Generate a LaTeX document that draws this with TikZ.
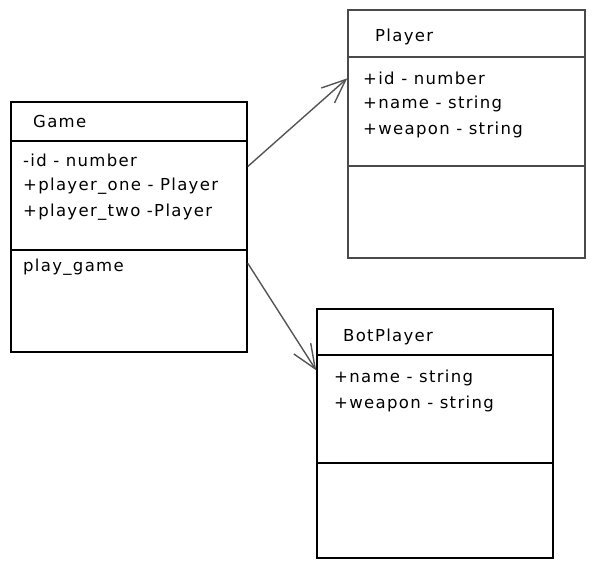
\documentclass[tikz,border=0pt]{standalone}
\usepackage{fontspec}
\setmainfont{DejaVu Sans}[LetterSpace=8]
\usetikzlibrary{arrows.meta}
\definecolor{linegray}{HTML}{4A4A4A}
\definecolor{arrowgray}{HTML}{555555}
\begin{document}
\begin{tikzpicture}[x=1pt,y=-1pt,
  classbox/.style={draw, line width=1.6pt, inner sep=0pt},
  sepline/.style={line width=2.8pt},
  member/.style={anchor=west, inner sep=0pt, font=\fontsize{16.5}{18}\selectfont},
  assoc/.style={draw=arrowgray, line width=1.4pt, -{Straight Barb[length=24pt,width=20pt,line width=1.4pt]}}]
\useasboundingbox (0,0) rectangle (595,569);

% Game
\node[classbox, minimum width=236pt, minimum height=250pt] (game) at (129,227) {};
\draw[sepline] (game.west |- 0,141) -- (game.east |- 0,141);
\draw[sepline] (game.west |- 0,250) -- (game.east |- 0,250);
\node[member] (gtitle) at (33,121) {Game};
\node[member] (gid) at (23,160) {-id - number};
\node[member] (gone) at (23,186) {+player\_one - Player};
\node[member] (gtwo) at (23,212) {+player\_two -Player};
\node[member] (gplay) at (23,267) {play\_game};

% Player
\node[classbox, draw=linegray, minimum width=237pt, minimum height=248pt] (player) at (466.5,134) {};
\draw[sepline, linegray] (player.west |- 0,57) -- (player.east |- 0,57);
\draw[sepline, linegray] (player.west |- 0,166) -- (player.east |- 0,166);
\node[member] (ptitle) at (375,37) {Player};
\node[member] (pid) at (363,78) {+id - number};
\node[member] (pname) at (363,104) {+name - string};
\node[member] (pweapon) at (363,130) {+weapon - string};

% BotPlayer
\node[classbox, minimum width=236pt, minimum height=249pt] (bot) at (435,433.5) {};
\draw[sepline] (bot.west |- 0,355) -- (bot.east |- 0,355);
\draw[sepline] (bot.west |- 0,463) -- (bot.east |- 0,463);
\node[member] (btitle) at (343,337) {BotPlayer};
\node[member] (bname) at (334,378) {+name - string};
\node[member] (bweapon) at (334,404) {+weapon - string};

% associations
\path[assoc] (game.27) -- (player.155);
\path[assoc] (game.343.5) -- (bot.152);
\end{tikzpicture}
\end{document}
